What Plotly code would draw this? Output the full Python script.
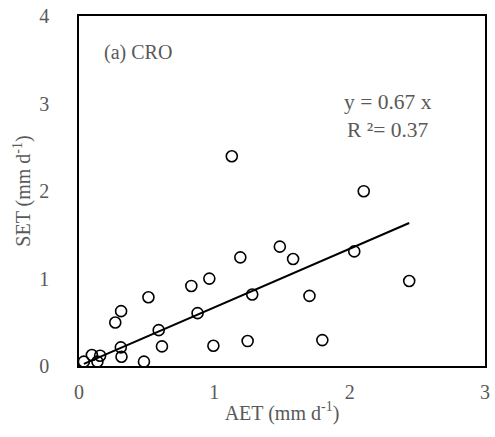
import plotly.graph_objects as go

aet = [2.104, 2.034, 2.44, 1.484, 1.582, 1.192, 0.963, 0.830, 1.28, 1.703,
       0.513, 0.876, 0.311, 0.268, 0.589, 0.309, 0.613, 0.993, 1.246, 1.798,
       0.314, 0.48, 0.095, 0.156, 0.136, 0.036, 1.129]
set_ = [1.998, 1.31, 0.972, 1.364, 1.223, 1.242, 0.999, 0.915, 0.817, 0.801,
        0.786, 0.604, 0.627, 0.497, 0.41, 0.213, 0.224, 0.232, 0.285, 0.296,
        0.106, 0.05, 0.125, 0.118, 0.05, 0.05, 2.397]
slope = 0.67
r2 = 0.37
x_ticks = [0, 1, 2, 3]
y_ticks = [0, 1, 2, 3, 4]

line_x = [min(aet), max(aet)]
line_y = [slope * v for v in line_x]

grey = "#595959"
font = "Liberation Serif, Times New Roman, serif"

fig = go.Figure()
fig.add_trace(go.Scatter(x=aet, y=set_, mode="markers",
                         marker=dict(symbol="circle-open", size=11,
                                     color="black", line=dict(width=1.6, color="black")),
                         showlegend=False))
fig.add_trace(go.Scatter(x=line_x, y=line_y, mode="lines",
                         line=dict(color="black", width=2), showlegend=False))

fig.add_annotation(x=0.17, y=3.58, xref="x", yref="y", text="(a) CRO",
                   showarrow=False, xanchor="left", yanchor="middle",
                   font=dict(family=font, size=20, color=grey))
fig.add_annotation(x=2.28, y=2.86, xref="x", yref="y",
                   text=f"y = {slope} x<br>R \u00b2= {r2}",
                   showarrow=False, xanchor="center", yanchor="middle", align="center",
                   font=dict(family=font, size=21.5, color=grey))

axis_common = dict(showgrid=False, zeroline=False, showline=True, linecolor="black",
                   linewidth=1.5, mirror=True, ticks="",
                   tickfont=dict(family=font, size=20, color=grey),
                   title_font=dict(family=font, size=20, color=grey))

fig.update_xaxes(range=[0, 3], tickvals=x_ticks, title_text="AET (mm d<sup>-1</sup>)",
                 ticklabelstandoff=7, title_standoff=4, **axis_common)
fig.update_yaxes(range=[0, 4], tickvals=y_ticks, title_text="SET (mm d<sup>-1</sup>)",
                 ticklabelstandoff=24, title_standoff=3, **axis_common)

fig.update_layout(width=495, height=437, margin=dict(l=79, r=5, t=13, b=71),
                  plot_bgcolor="white", paper_bgcolor="white")

fig.write_html("out.html")
